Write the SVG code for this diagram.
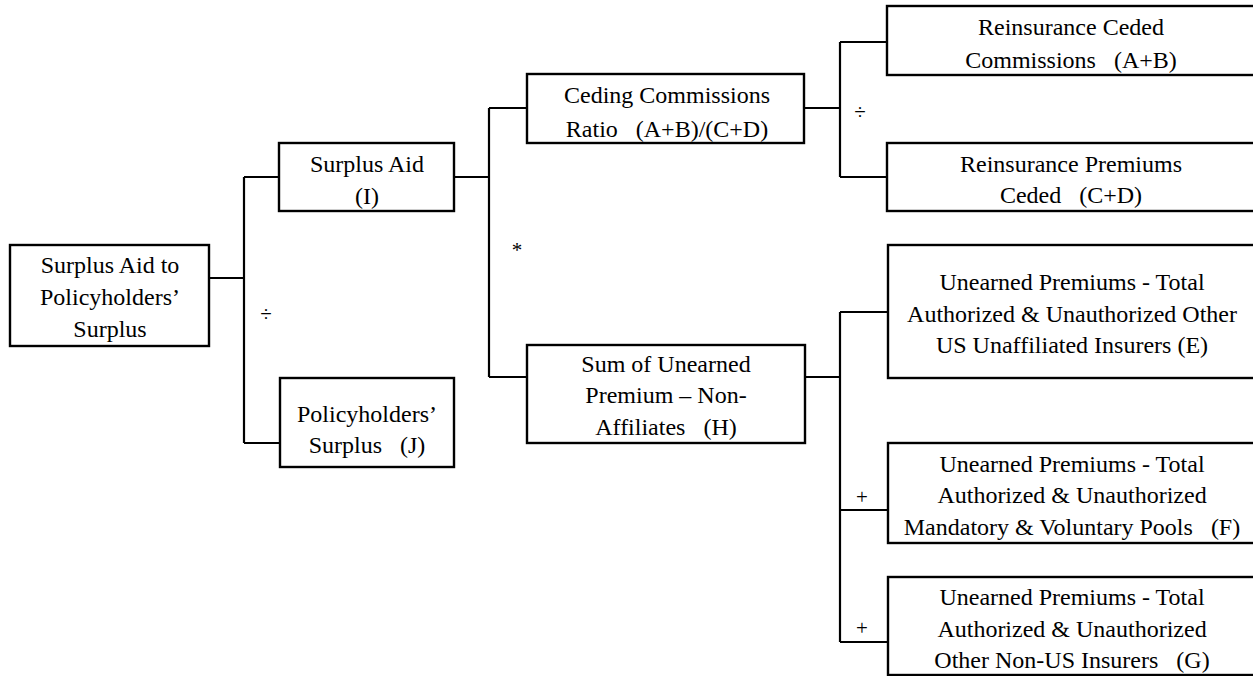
<svg xmlns="http://www.w3.org/2000/svg" width="1253" height="676" viewBox="0 0 1253 676">
<style>
.box{fill:#fff;stroke:#000;stroke-width:2.4}
.t{font-family:'Liberation Serif','DejaVu Serif',serif;font-size:24px;fill:#000;text-anchor:middle;white-space:pre}
.op{font-family:'Liberation Serif','DejaVu Serif',serif;font-size:21px;fill:#000;text-anchor:middle}
.c{fill:none;stroke:#000;stroke-width:2.2}
</style>
<rect width="1253" height="676" fill="#fff"/>
<g id="connectors">
<path class="c" d="M209 278H244M244 177V443M244 177H279M244 443H280"/>
<path class="c" d="M454 177H489M489 108V377M489 108H527M489 377H527"/>
<path class="c" d="M804 108H840M840 42V177M840 42H887M840 177H887"/>
<path class="c" d="M805 377H840M840 312V642M840 312H888M840 510H888M840 642H888"/>
</g>
<g id="ops">
<text class="op" x="266" y="321">÷</text>
<text class="op" x="860" y="119">÷</text>
<text class="op" x="517" y="257">*</text>
<text class="op" x="862" y="504">+</text>
<text class="op" x="862" y="635">+</text>
</g>
<g id="root">
<rect class="box" x="10" y="245" width="199" height="101"/>
<text class="t" x="110" y="273">Surplus Aid to</text>
<text class="t" x="110" y="305">Policyholders’</text>
<text class="t" x="110" y="337">Surplus</text>
</g>
<g id="surplusAid">
<rect class="box" x="279" y="143" width="175" height="68"/>
<text class="t" x="367" y="172">Surplus Aid</text>
<text class="t" x="367" y="204">(I)</text>
</g>
<g id="policyholders">
<rect class="box" x="280" y="378" width="174" height="89"/>
<text class="t" x="367" y="422">Policyholders’</text>
<text class="t" x="367" y="453">Surplus   (J)</text>
</g>
<g id="ceding">
<rect class="box" x="527" y="74" width="277" height="69"/>
<text class="t" x="667" y="103">Ceding Commissions</text>
<text class="t" x="667" y="137">Ratio   (A+B)/(C+D)</text>
</g>
<g id="sumUnearned">
<rect class="box" x="527" y="345" width="278" height="98"/>
<text class="t" x="666" y="372">Sum of Unearned</text>
<text class="t" x="666" y="403">Premium – Non-</text>
<text class="t" x="666" y="435">Affiliates   (H)</text>
</g>
<g id="reinsCeded">
<rect class="box" x="887" y="6" width="380" height="69"/>
<text class="t" x="1071" y="35">Reinsurance Ceded</text>
<text class="t" x="1071" y="68">Commissions   (A+B)</text>
</g>
<g id="reinsPremiums">
<rect class="box" x="887" y="143" width="380" height="68"/>
<text class="t" x="1071" y="172">Reinsurance Premiums</text>
<text class="t" x="1071" y="203">Ceded   (C+D)</text>
</g>
<g id="nodeE">
<rect class="box" x="888" y="245" width="380" height="133"/>
<text class="t" x="1072" y="290">Unearned Premiums - Total</text>
<text class="t" x="1072" y="322">Authorized &amp; Unauthorized Other</text>
<text class="t" x="1072" y="353">US Unaffiliated Insurers (E)</text>
</g>
<g id="nodeF">
<rect class="box" x="888" y="443" width="380" height="100"/>
<text class="t" x="1072" y="472">Unearned Premiums - Total</text>
<text class="t" x="1072" y="503">Authorized &amp; Unauthorized</text>
<text class="t" x="1072" y="535">Mandatory &amp; Voluntary Pools   (F)</text>
</g>
<g id="nodeG">
<rect class="box" x="888" y="577" width="380" height="98"/>
<text class="t" x="1072" y="605">Unearned Premiums - Total</text>
<text class="t" x="1072" y="637">Authorized &amp; Unauthorized</text>
<text class="t" x="1072" y="668">Other Non-US Insurers   (G)</text>
</g>
</svg>
